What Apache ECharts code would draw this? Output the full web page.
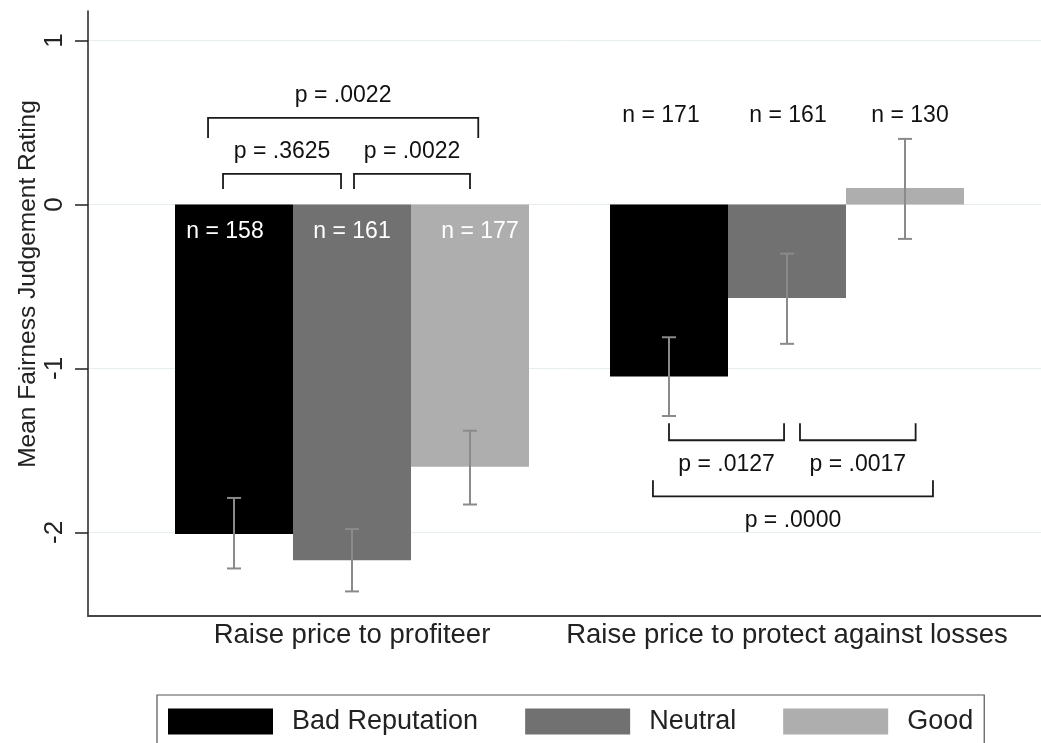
<!DOCTYPE html>
<html><head><meta charset="utf-8">
<script src="https://cdn.jsdelivr.net/npm/echarts@6/dist/echarts.min.js"></script>
<style>html,body{margin:0;padding:0;background:#fff;width:1041px;height:743px;overflow:hidden}#c{width:1041px;height:760px}</style>
</head><body><div id="c"></div>
<script>
// ---------- data ----------
const categories = ['Raise price to profiteer', 'Raise price to protect against losses'];
const seriesNames = ['Bad Reputation', 'Neutral', 'Good'];
const meanBad = [-2.01, -1.05];
const meanNeutral = [-2.17, -0.57];
const meanGood = [-1.60, 0.10];
const ciBad = [[-2.22, -1.79], [-1.29, -0.81]];
const ciNeutral = [[-2.36, -1.98], [-0.85, -0.30]];
const ciGood = [[-1.83, -1.38], [-0.21, 0.40]];
const nBad = [158, 171];
const nNeutral = [161, 161];
const nGood = [177, 130];
const yTicks = [-2, -1, 0, 1];
// brackets: [group, from bar, to bar, bar level, leg end level, text level]
const pBrackets = [
  [0, -0.093, 0.907, 0.186, 0.095, 0.32],
  [0, 1.017, 2.0, 0.186, 0.095, 0.32],
  [0, -0.22, 2.07, 0.528, 0.406, 0.662],
  [1, 0.0, 0.975, -1.438, -1.334, -1.584],
  [1, 1.11, 2.09, -1.438, -1.334, -1.584],
  [1, -0.136, 2.237, -1.780, -1.682, -1.926]
];
const pLabels = ['p = .3625', 'p = .0022', 'p = .0022', 'p = .0127', 'p = .0017', 'p = .0000'];

// ---------- style ----------
const FONT = "'Liberation Sans', Arial, Helvetica, sans-serif";
const COLORS = ['#000000', '#717171', '#aeaeae'];
const ERR_COLOR = '#8a8a8a';
const BAR_W = 118;
const Y_MIN = -2.51, Y_MAX = 1.18;
const N_LABEL_Y = [-0.165, 0.54];
const N_LABEL_COLOR = ['#ffffff', '#111111'];
const N_NUDGE = [[-9, 0, 10], [-8, 1, 5]];

const means = [meanBad, meanNeutral, meanGood];
const cis = [ciBad, ciNeutral, ciGood];
const ns = [nBad, nNeutral, nGood];

const chart = echarts.init(document.getElementById('c'), null, {renderer: 'canvas'});

function errRender(k) {
  return function (params, api) {
    const c = api.value(0);
    const lo = api.coord([c, api.value(1)]);
    const hi = api.coord([c, api.value(2)]);
    const x = lo[0] + (k - 1) * BAR_W;
    const cap = 7;
    const st = {stroke: ERR_COLOR, lineWidth: 2};
    return {type: 'group', children: [
      {type: 'line', shape: {x1: x, y1: lo[1], x2: x, y2: hi[1]}, style: st},
      {type: 'line', shape: {x1: x - cap, y1: lo[1], x2: x + cap, y2: lo[1]}, style: st},
      {type: 'line', shape: {x1: x - cap, y1: hi[1], x2: x + cap, y2: hi[1]}, style: st}
    ]};
  };
}
function nRender(k) {
  return function (params, api) {
    const g = api.value(0);
    const p = api.coord([g, N_LABEL_Y[g]]);
    return {type: 'text', x: p[0] + (k - 1) * BAR_W + N_NUDGE[g][k], y: p[1],
      style: {text: 'n = ' + api.value(1), font: '23px ' + FONT, fill: N_LABEL_COLOR[g],
        align: 'center', verticalAlign: 'middle'}};
  };
}
function bracketRender(params, api) {
  const g = api.value(0);
  const base = api.coord([g, 0])[0];
  const x1 = base + (api.value(1) - 1) * BAR_W;
  const x2 = base + (api.value(2) - 1) * BAR_W;
  const yb = api.coord([g, api.value(3)])[1];
  const yl = api.coord([g, api.value(4)])[1];
  const yt = api.coord([g, api.value(5)])[1];
  return {type: 'group', children: [
    {type: 'polyline', shape: {points: [[x1, yl], [x1, yb], [x2, yb], [x2, yl]]},
      style: {stroke: '#1a1a1a', lineWidth: 1.8, fill: null}},
    {type: 'text', x: (x1 + x2) / 2, y: yt,
      style: {text: pLabels[params.dataIndex], font: '23px ' + FONT, fill: '#111',
        align: 'center', verticalAlign: 'middle'}}
  ]};
}

const series = [];
seriesNames.forEach((name, k) => {
  series.push({
    name: name, type: 'bar', xAxisIndex: 1, yAxisIndex: 1,
    data: means[k], barWidth: BAR_W, barGap: '0%',
    itemStyle: {color: COLORS[k]}, z: 2
  });
});
seriesNames.forEach((name, k) => {
  series.push({
    name: name + ' CI', type: 'custom', xAxisIndex: 1, yAxisIndex: 1, z: 4,
    renderItem: errRender(k),
    data: cis[k].map((d, i) => [i, d[0], d[1]])
  });
  series.push({
    name: name + ' n', type: 'custom', xAxisIndex: 1, yAxisIndex: 1, z: 5,
    renderItem: nRender(k),
    data: ns[k].map((v, i) => [i, v])
  });
});
series.push({
  name: 'p values', type: 'custom', xAxisIndex: 1, yAxisIndex: 1, z: 5,
  renderItem: bracketRender, data: pBrackets
});

chart.setOption({
  animation: false,
  backgroundColor: '#ffffff',
  textStyle: {fontFamily: FONT},
  grid: [
    {left: 88, right: 0, top: 11, bottom: 144},
    {left: 134.5, right: 36.5, top: 11, bottom: 144}
  ],
  xAxis: [
    {gridIndex: 0, type: 'value', min: 0, max: 1,
      axisLine: {show: true, onZero: false, lineStyle: {color: '#444', width: 2}},
      axisTick: {show: false}, axisLabel: {show: false}, splitLine: {show: false}},
    {gridIndex: 1, type: 'category', data: categories,
      axisLine: {show: false}, axisTick: {show: false},
      axisLabel: {interval: 0, fontSize: 27.5, color: '#222', margin: 5, fontFamily: FONT}}
  ],
  yAxis: [
    {gridIndex: 0, type: 'value', min: Y_MIN, max: Y_MAX,
      axisLine: {show: true, lineStyle: {color: '#222', width: 1.5}},
      axisTick: {show: true, length: 13, customValues: yTicks, lineStyle: {color: '#222', width: 1.5}},
      axisLabel: {show: true, customValues: yTicks, rotate: 90, fontSize: 26, color: '#222', margin: 20, fontFamily: FONT},
      splitLine: {show: true, lineStyle: {color: '#e6eded', width: 1}}},
    {gridIndex: 1, type: 'value', min: Y_MIN, max: Y_MAX, show: false, splitLine: {show: false}}
  ],
  legend: {
    data: seriesNames, left: 157, top: 695,
    itemWidth: 105, itemHeight: 26, itemGap: 47, icon: 'rect',
    padding: [13, 11, 13, 11],
    borderColor: '#555', borderWidth: 1.2,
    textStyle: {fontSize: 27, color: '#222', fontFamily: FONT, padding: [0, 0, 0, 14]}
  },
  graphic: [{
    type: 'text', x: 28, y: 284, rotation: Math.PI / 2,
    style: {text: 'Mean Fairness Judgement Rating', font: '24.5px ' + FONT, fill: '#222',
      align: 'center', verticalAlign: 'middle'}
  }],
  series: series
});
</script></body></html>
